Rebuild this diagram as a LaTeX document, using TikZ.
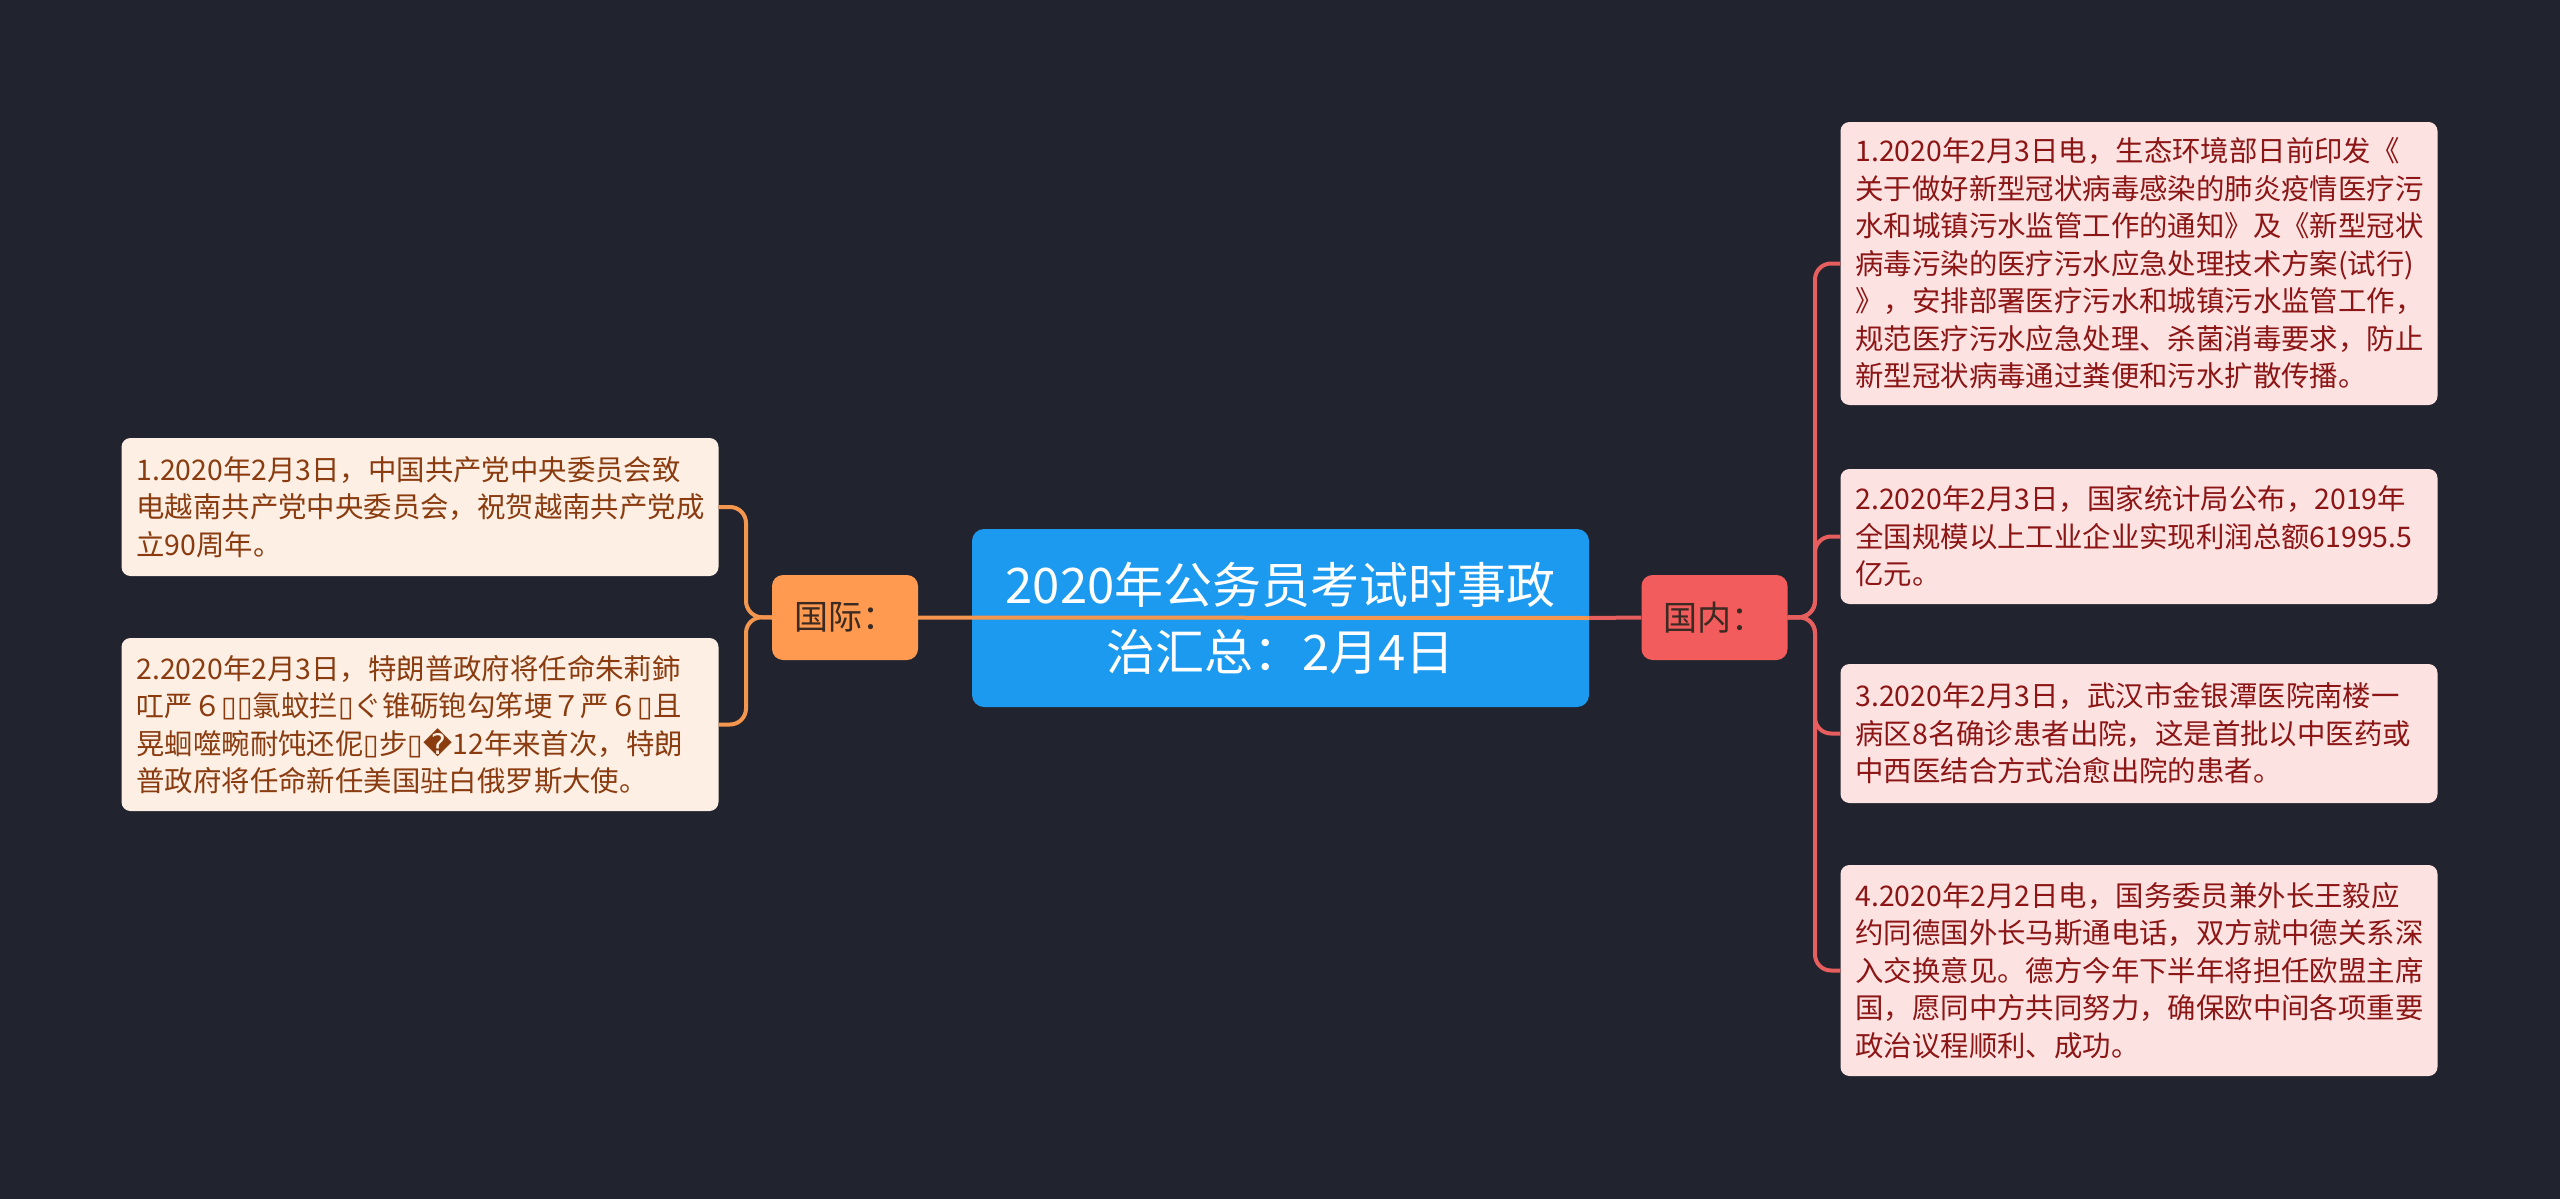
\documentclass[tikz,border=0pt]{standalone}
\usepackage{fontspec}
\setmainfont{Noto Sans CJK SC}
\newfontfamily\dv{DejaVu Sans}
\definecolor{bgc}{HTML}{21242E}
\definecolor{rootfill}{HTML}{1B9AF0}
\definecolor{orfill}{HTML}{FF9A50}
\definecolor{orline}{HTML}{F5964F}
\definecolor{rdfill}{HTML}{F25C5C}
\definecolor{rdline}{HTML}{E65E5E}
\definecolor{lfill}{HTML}{FDEFE3}
\definecolor{ltext}{HTML}{8A3C10}
\definecolor{rfill}{HTML}{FDE2E2}
\definecolor{rtext}{HTML}{8C1515}
\definecolor{labtext}{HTML}{3A2A22}
\newcommand{\tofu}{{\dv ▯}}
\newcommand{\repl}{{\dv �}}
\tikzset{
  leafbase/.style={rounded corners=9pt, font=\fontsize{28.4}{37.5}\selectfont,
    text width=567pt, align=left, inner xsep=15pt, inner ysep=0pt, anchor=center},
  leafL/.style={leafbase, fill=lfill, text=ltext},
  leafR/.style={leafbase, fill=rfill, text=rtext},
  rootbox/.style={rounded corners=12pt, fill=rootfill, text=white,
    font=\fontsize{49}{67}\selectfont, align=center, minimum width=617pt,
    minimum height=178pt, inner sep=0pt},
  labbox/.style={rounded corners=11pt, text=labtext, font=\fontsize{34}{38}\selectfont,
    minimum width=146pt, minimum height=85pt, inner sep=0pt},
  orconn/.style={draw=orline, line width=4pt, rounded corners=16pt},
  rdconn/.style={draw=rdline, line width=4pt, rounded corners=16pt}
}
\begin{document}
\begin{tikzpicture}[x=1pt,y=-1pt]
\fill[bgc] (0,0) rectangle (2560,1199);
\useasboundingbox (0,0) rectangle (2560,1199);

\node[rootbox] (root) at (1280.5,618) {2020年公务员考试时事政\\治汇总：2月4日};
\node[labbox, fill=orfill] (gj) at (845,617.5) {国际：};
\node[labbox, fill=rdfill] (gn) at (1714.5,617.5) {国内：};

\node[leafL, minimum height=138pt] (l1) at (420,507) {1.2020年2月3日，中国共产党中央委员会致\\电越南共产党中央委员会，祝贺越南共产党成\\立90周年。};
\node[leafL, minimum height=173pt] (l2) at (420,724.5) {2.2020年2月3日，特朗普政府将任命朱莉鈰\\叿严６\tofu\tofu 氯蚊拦\tofu ぐ锥砺铇勾笫埂７严６\tofu 且\\晃蛔噬畹耐饨还伲\tofu 步\tofu\repl 12年来首次，特朗\\普政府将任命新任美国驻白俄罗斯大使。};

\node[leafR, minimum height=283pt] (r1) at (2139,263.5) {1.2020年2月3日电，生态环境部日前印发《\\关于做好新型冠状病毒感染的肺炎疫情医疗污\\水和城镇污水监管工作的通知》及《新型冠状\\病毒污染的医疗污水应急处理技术方案(试行)\\》，安排部署医疗污水和城镇污水监管工作，\\规范医疗污水应急处理、杀菌消毒要求，防止\\新型冠状病毒通过粪便和污水扩散传播。};
\node[leafR, minimum height=135pt] (r2) at (2139,536.5) {2.2020年2月3日，国家统计局公布，2019年\\全国规模以上工业企业实现利润总额61995.5\\亿元。};
\node[leafR, minimum height=139pt] (r3) at (2139,733.5) {3.2020年2月3日，武汉市金银潭医院南楼一\\病区8名确诊患者出院，这是首批以中医药或\\中西医结合方式治愈出院的患者。};
\node[leafR, minimum height=211pt] (r4) at (2139,970.5) {4.2020年2月2日电，国务委员兼外长王毅应\\约同德国外长马斯通电话，双方就中德关系深\\入交换意见。德方今年下半年将担任欧盟主席\\国，愿同中方共同努力，确保欧中间各项重要\\政治议程顺利、成功。};

\coordinate (bl) at (746,617);
\coordinate (br) at (1815,617);

% left branch
\draw[orconn] (gj.west) -- (bl) |- (l1.east);
\draw[orconn] (gj.west) -- (bl) |- (l2.east);
% right branch
\draw[rdconn] (gn.east) -- (br) |- (r1.west);
\draw[rdconn] (gn.east) -- (br) |- (r2.west);
\draw[rdconn] (gn.east) -- (br) |- (r3.west);
\draw[rdconn] (gn.east) -- (br) |- (r4.west);
% main connectors
\draw[rdline, line width=4pt] (root.east) -- (gn.west);
\draw[orline, line width=4pt] (gj.east) -- (root.east);
\end{tikzpicture}
\end{document}
